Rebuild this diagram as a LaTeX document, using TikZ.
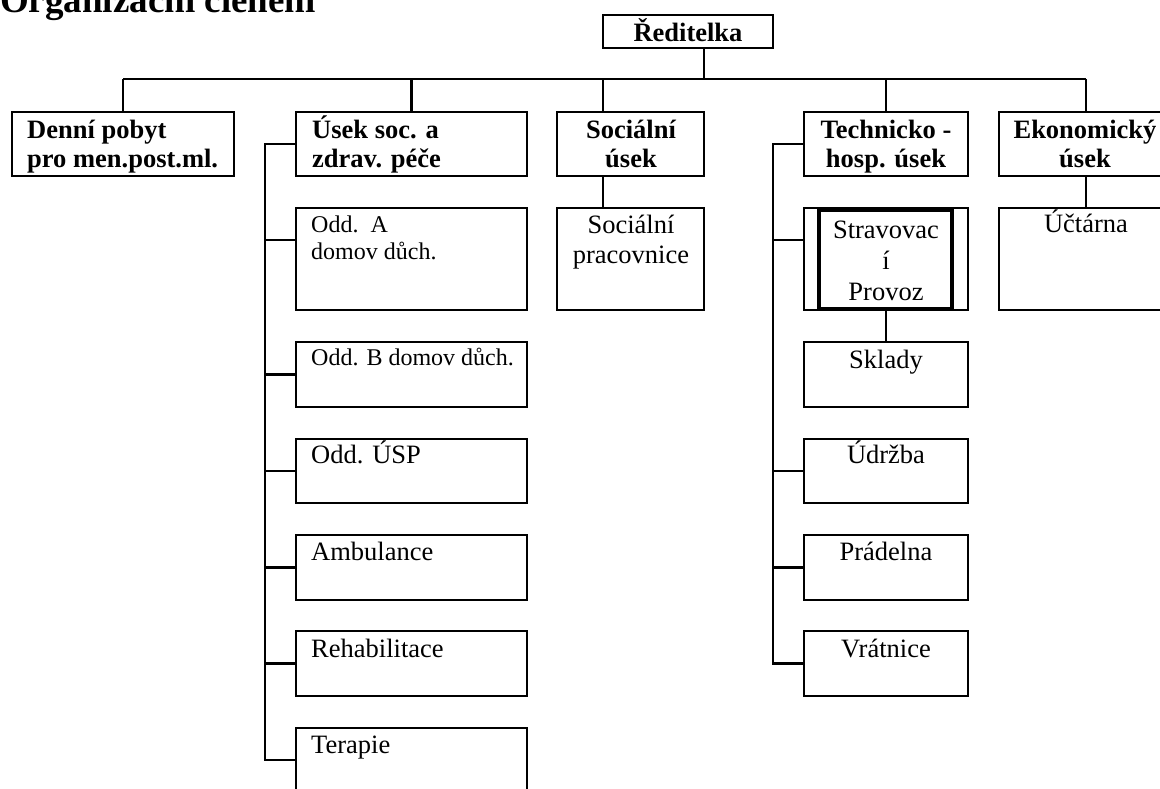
\documentclass[tikz,border=0pt]{standalone}
\usepackage{fontspec}
\setmainfont{Liberation Serif}
\newcommand\bfs{\bfseries\fontsize{26.5}{29.5}\selectfont}
\newcommand\rgs{\fontsize{26.5}{30}\selectfont}
\newcommand\sms{\fontsize{24}{27}\selectfont}
\begin{document}
\begin{tikzpicture}[x=1pt,y=-1pt,
  box/.style={draw,line width=2.4pt,anchor=north west,inner sep=0pt,outer sep=0pt},
  conn/.style={line width=2.4pt},
  hd/.style={anchor=base,font=\bfs,align=center,inner sep=0pt},
  hdl/.style={anchor=base west,font=\bfs,align=left,inner sep=0pt},
  tx/.style={anchor=base,font=\rgs,align=center,inner sep=0pt},
  txl/.style={anchor=base west,font=\rgs,align=left,inner sep=0pt},
  txs/.style={anchor=base west,font=\sms,align=left,inner sep=0pt}]
\useasboundingbox (0,0) rectangle (1160,788);
\fill[white] (0,0) rectangle (1160,788);
\node[anchor=base west,inner sep=0pt,font=\bfseries\fontsize{37}{40}\selectfont] (title) at (0,12) {Organizační členění};
% top
\node[box,minimum width=170pt,minimum height=33pt] (red) at (603,15) {};
\node[hd] (tred) at (688,41) {Ředitelka};
% level 1
\node[box,minimum width=222pt,minimum height=64pt] (denni) at (12,112) {};
\node[box,minimum width=231pt,minimum height=64pt] (usek) at (296,112) {};
\node[box,minimum width=147pt,minimum height=64pt] (soc) at (557,112) {};
\node[box,minimum width=164pt,minimum height=64pt] (tech) at (804,112) {};
\node[box,minimum width=174pt,minimum height=64pt] (ekon) at (999,112) {};
\node[hdl] (tdenni) at (27,167.5) {Denní pobyt\\pro men.post.ml.};
\node[hdl] (tusek) at (312,167.5) {Úsek soc. a\\zdrav. péče};
\node[hd] (tsoc) at (631,167.5) {Sociální\\úsek};
\node[hd] (ttech) at (886,167.5) {Technicko -\\hosp. úsek};
\node[hd] (tekon) at (1085,167.5) {Ekonomický\\úsek};
% usek children
\node[box,minimum width=231pt,minimum height=102pt] (oddA) at (296,208) {};
\node[box,minimum width=231pt,minimum height=65pt] (oddB) at (296,342) {};
\node[box,minimum width=231pt,minimum height=64pt] (usp) at (296,439) {};
\node[box,minimum width=231pt,minimum height=65pt] (amb) at (296,535) {};
\node[box,minimum width=231pt,minimum height=65pt] (reh) at (296,631) {};
\node[box,minimum width=231pt,minimum height=64pt] (ter) at (296,728) {};
\node[txs] (toddA) at (311,259) {Odd.~~A\\domov důch.};
\node[txs] (toddB) at (311,365) {Odd. B domov důch.};
\node[txl] (tusp) at (311,463) {Odd. ÚSP};
\node[txl] (tamb) at (311,560) {Ambulance};
\node[txl] (treh) at (311,657) {Rehabilitace};
\node[txl] (tter) at (311,753) {Terapie};
% social
\node[box,minimum width=147pt,minimum height=102pt] (socp) at (557,208) {};
\node[tx] (tsocp) at (631,263) {Sociální\\pracovnice};
% technical children
\node[box,minimum width=164pt,minimum height=102pt] (strav) at (804,208) {};
\node[box,line width=3.2pt,minimum width=133pt,minimum height=99pt] (stravin) at (819,210) {};
\node[tx] (tstrav) at (886,300) {Stravovac\\[1pt]í\\[1pt]Provoz};
\node[box,minimum width=164pt,minimum height=65pt] (skl) at (804,342) {};
\node[box,minimum width=164pt,minimum height=64pt] (udr) at (804,439) {};
\node[box,minimum width=164pt,minimum height=65pt] (prad) at (804,535) {};
\node[box,minimum width=164pt,minimum height=65pt] (vrat) at (804,631) {};
\node[tx] (tskl) at (886,368) {Sklady};
\node[tx] (tudr) at (886,463) {Údržba};
\node[tx] (tprad) at (886,560) {Prádelna};
\node[tx] (tvrat) at (886,657) {Vrátnice};
% economic
\node[box,minimum width=174pt,minimum height=102pt] (uct) at (999,208) {};
\node[tx] (tuct) at (1086,232) {Účtárna};
% connectors
\draw[conn] ([xshift=16pt]red.south) -- ++(0,31) coordinate (busC);
\draw[conn] (denni.north |- busC) -- (ekon.north |- busC);
\draw[conn] (denni.north) -- (denni.north |- busC);
\draw[conn] (usek.north) -- (usek.north |- busC);
\draw[conn] ([xshift=-27.5pt]soc.north) -- ([xshift=-27.5pt]soc.north |- busC);
\draw[conn] (tech.north) -- (tech.north |- busC);
\draw[conn] (ekon.north) -- (ekon.north |- busC);
\path (usek.west) ++(-31,0) coordinate (ub);
\draw[conn] (usek.west) -- (ub) |- (ter.west);
\coordinate (oddAin) at ([yshift=-32pt]oddA.north west);
\draw[conn] (oddAin) -- (ub |- oddAin);
\foreach \n in {oddB,usp,amb,reh} \draw[conn] (\n.west) -- (ub |- \n.west);
\draw[conn] ([xshift=-27.5pt]soc.south) -- ([xshift=-27.5pt]socp.north);
\path (tech.west) ++(-31,0) coordinate (tb);
\draw[conn] (tech.west) -- (tb) |- (vrat.west);
\coordinate (stravpt) at ([yshift=-32pt]strav.north west);
\draw[conn] (stravpt) -- (tb |- stravpt);
\foreach \n in {udr,prad} \draw[conn] (\n.west) -- (tb |- \n.west);
\draw[conn] (strav.south) -- (skl.north);
\draw[conn] (ekon.south) -- (uct.north);
\end{tikzpicture}
\end{document}
